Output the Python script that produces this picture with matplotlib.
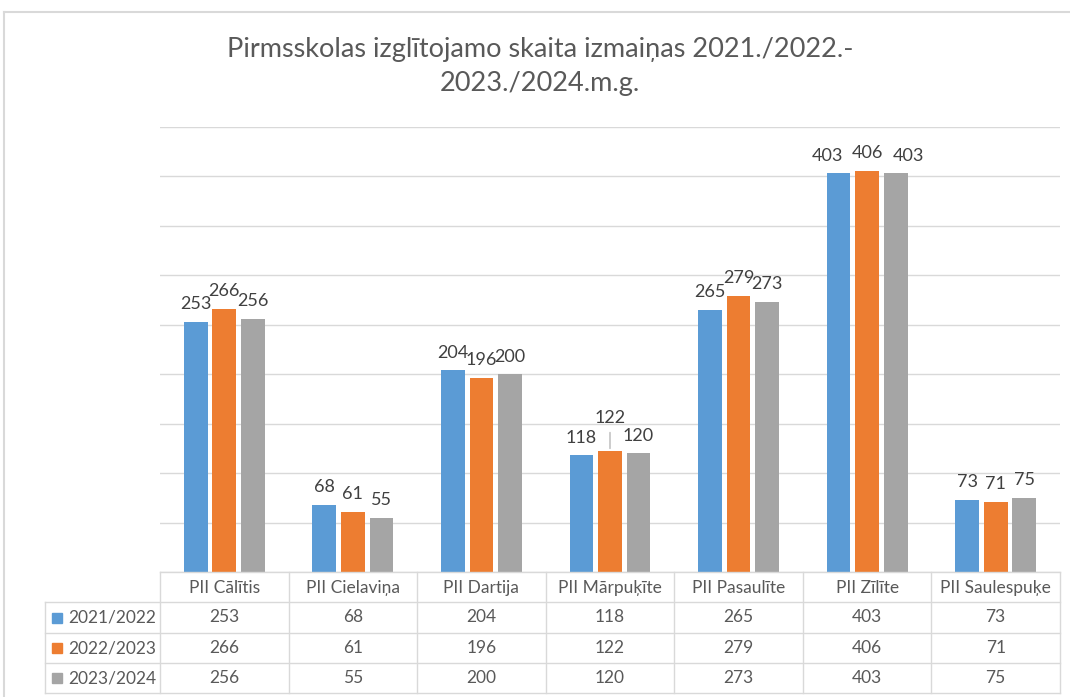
import matplotlib
matplotlib.use("Agg")
import matplotlib.pyplot as plt
import numpy as np
from matplotlib.lines import Line2D
from matplotlib.patches import Rectangle

plt.rcParams['font.family'] = ['Lato', 'DejaVu Sans']

categories = ['PII Cālītis', 'PII Cielaviņa', 'PII Dartija', 'PII Mārpuķīte',
              'PII Pasaulīte', 'PII Zīlīte', 'PII Saulespuķe']
series_names = ['2021/2022', '2022/2023', '2023/2024']
v2021 = [253, 68, 204, 118, 265, 403, 73]
v2022 = [266, 61, 196, 122, 279, 406, 71]
v2023 = [256, 55, 200, 120, 273, 403, 75]
colors = ['#5b9bd5', '#ed7d31', '#a5a5a5']
title = 'Pirmsskolas izglītojamo skaita izmaiņas 2021./2022.-\n2023./2024.m.g.'

W, H = 1070, 697
fig = plt.figure(figsize=(W / 100, H / 100), dpi=100)

def fx(px):
    return px / W

def fy(py):
    return 1 - py / H

# chart area border
fig.add_artist(Line2D([fx(4), fx(1070)], [fy(12), fy(12)], color='#d9d9d9', lw=1.5))
fig.add_artist(Line2D([fx(4), fx(4)], [fy(12), fy(697)], color='#d9d9d9', lw=1.5))

x0, x1, ytop, ybot = 160, 1060, 127, 572
ax = fig.add_axes([fx(x0), fy(ybot), fx(x1) - fx(x0), fy(ytop) - fy(ybot)])
ax.set_xlim(-0.5, len(categories) - 0.5)
ax.set_ylim(0, 450)
ax.set_yticks(np.arange(0, 451, 50))
ax.yaxis.grid(True, color='#d9d9d9', lw=1)
ax.set_axisbelow(True)
ax.tick_params(left=False, bottom=False, labelleft=False, labelbottom=False)
for s in ax.spines.values():
    s.set_visible(False)

x = np.arange(len(categories))
pitch, bw = 0.222, 0.185
all_vals = [v2021, v2022, v2023]
for i, vals in enumerate(all_vals):
    pos = x + (i - 1) * pitch
    ax.bar(pos, vals, width=bw, color=colors[i], zorder=3)

# data labels (Excel moved some to avoid overlap) - offsets in pixels
label_shift = {(3, 1): (0, 16), (5, 0): (-11, 0), (5, 2): (13, 0)}
for i, vals in enumerate(all_vals):
    for j, v in enumerate(vals):
        xp = j + (i - 1) * pitch
        dx, dy = label_shift.get((j, i), (0, 0))
        ax.annotate(str(v), (xp, v), xytext=(dx * 0.72, 7 + dy * 0.72),
                    textcoords='offset points', ha='center', va='bottom',
                    fontsize=13, color='#404040', zorder=4)
# leader line for Mārpuķīte 122
ax.annotate('', xy=(3, v2022[3]), xytext=(3, v2022[3] + 22),
            arrowprops=dict(arrowstyle='-', color='#a6a6a6', lw=0.8))

fig.text(0.505, fy(67), title, ha='center', va='center', fontsize=19.5,
         color='#595959', linespacing=1.45)

# data table
grid_c = '#d9d9d9'
col_edges = np.linspace(x0, x1, len(categories) + 1)
row_edges = [572, 602, 633, 663, 693]
leg_left = 45
fig.add_artist(Line2D([fx(x0), fx(x1)], [fy(572), fy(572)], color=grid_c, lw=1))
for r in row_edges[1:]:
    fig.add_artist(Line2D([fx(leg_left), fx(x1)], [fy(r), fy(r)], color=grid_c, lw=1))
for c in col_edges:
    fig.add_artist(Line2D([fx(c), fx(c)], [fy(572), fy(693)], color=grid_c, lw=1))
fig.add_artist(Line2D([fx(leg_left), fx(leg_left)], [fy(602), fy(693)], color=grid_c, lw=1))

for j, cat in enumerate(categories):
    cx = (col_edges[j] + col_edges[j + 1]) / 2
    fig.text(fx(cx), fy(588), cat, ha='center', va='center', fontsize=12.5, color='#595959')
    for i, vals in enumerate(all_vals):
        cy = (row_edges[i + 1] + row_edges[i + 2]) / 2
        fig.text(fx(cx), fy(cy), str(vals[j]), ha='center', va='center',
                 fontsize=12.5, color='#595959')

for i, name in enumerate(series_names):
    cy = (row_edges[i + 1] + row_edges[i + 2]) / 2
    fig.add_artist(Rectangle((fx(52), fy(cy + 5)), fx(10), fy(cy - 5) - fy(cy + 5),
                             color=colors[i]))
    fig.text(fx(68), fy(cy), name, ha='left', va='center', fontsize=12.5, color='#595959')

fig.savefig('out.png', dpi=100, facecolor='white')
